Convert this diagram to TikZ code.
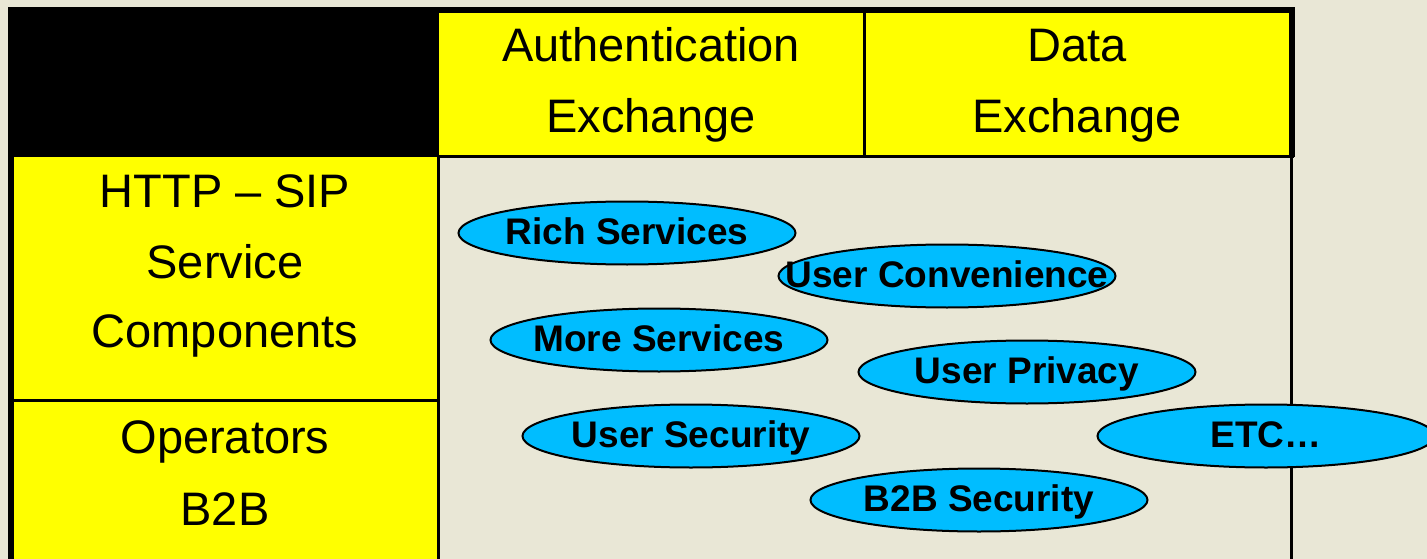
\documentclass[tikz,border=0pt]{standalone}
\usepackage{fontspec}
\setmainfont{Liberation Sans}
\usetikzlibrary{shapes.geometric}
\definecolor{bg}{RGB}{233,231,214}
\definecolor{cy}{RGB}{0,189,255}
\definecolor{yel}{RGB}{255,255,0}
\begin{document}
\begin{tikzpicture}[x=1pt,y=-1pt,
  cell/.style={rectangle, draw=none, inner sep=0pt, outer sep=0pt, anchor=north west},
  rule/.style={fill=black},
  txt/.style={font=\fontsize{47}{56}\selectfont, anchor=base, inner sep=0pt},
  bubble/.style={ellipse, draw=black, line width=2pt, fill=cy, minimum width=337pt, minimum height=63pt, inner sep=0pt, font=\fontsize{37}{40}\selectfont\bfseries, text height=22pt, text depth=0pt}
]
\useasboundingbox (0,0) rectangle (1427,559);
\fill[bg] (0,0) rectangle (1427,559);

% cells
\node[cell, fill=black, minimum width=431pt, minimum height=150pt] (corner) at (8,7) {};
\node[cell, fill=yel, minimum width=424pt, minimum height=142pt] (auth) at (439,13) {};
\node[cell, fill=yel, minimum width=424pt, minimum height=142pt] (data) at (865,13) {};
\node[cell, fill=yel, minimum width=423pt, minimum height=242pt] (http) at (14,157) {};
\node[cell, fill=yel, minimum width=423pt, minimum height=157pt] (oper) at (14,402) {};

% rules
\fill[rule] (439,7) rectangle (1295,13);
\fill[rule] (1289,7) rectangle (1295,157);
\fill[rule] (439,155) rectangle (1294,158);
\fill[rule] (863,13) rectangle (865.5,155);
\fill[rule] (8,157) rectangle (14,559);
\fill[rule] (14,399) rectangle (437,402);
\fill[rule] (436.5,155) rectangle (439.5,559);
\fill[rule] (1289.5,155) rectangle (1292.5,559);

% texts
\node[txt] (t1) at (651,62) {Authentication};
\node[txt] (t2) at (651,133) {Exchange};
\node[txt] (t3) at (1077,62) {Data};
\node[txt] (t4) at (1077,133) {Exchange};
\node[txt] (t5) at (225,207) {HTTP – SIP};
\node[txt] (t6) at (225,278) {Service};
\node[txt] (t7) at (225,347) {Components};
\node[txt] (t8) at (225,453) {Operators};
\node[txt] (t9) at (225,525) {B2B};

% bubbles
\node[bubble] (rich) at (627,233) {\makebox[0pt]{Rich Services}};
\node[bubble] (conv) at (947,276) {\makebox[0pt]{User Convenience}};
\node[bubble] (more) at (659,340) {\makebox[0pt]{More Services}};
\node[bubble] (priv) at (1027,372) {\makebox[0pt]{User Privacy}};
\node[bubble] (usec) at (691,436) {\makebox[0pt]{User Security}};
\node[bubble] (etc) at (1266,436) {\makebox[0pt]{ETC…}};
\node[bubble] (b2b) at (979,500) {\makebox[0pt]{B2B Security}};
\end{tikzpicture}
\end{document}
